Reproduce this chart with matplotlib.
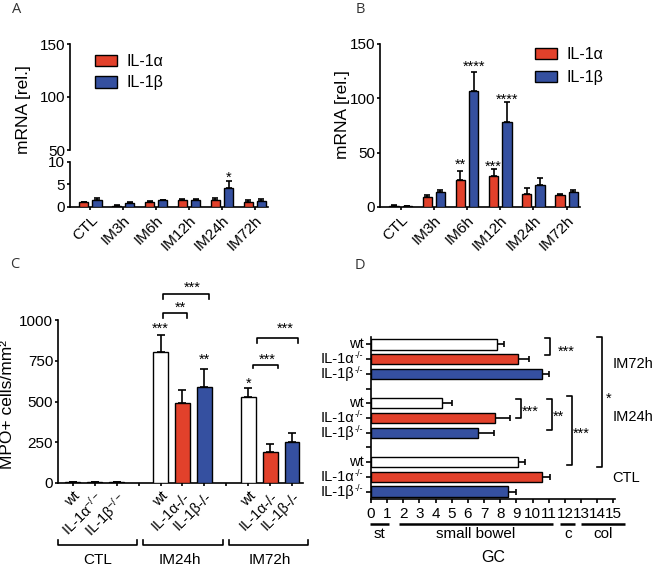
import numpy as np
import matplotlib
matplotlib.use("Agg")
import matplotlib.pyplot as plt
from matplotlib.patches import Patch
from matplotlib.transforms import offset_copy

plt.rcParams['font.family'] = ['Liberation Sans', 'DejaVu Sans']
plt.rcParams['mathtext.fontset'] = 'custom'
plt.rcParams['mathtext.rm'] = 'Liberation Sans'
plt.rcParams['mathtext.it'] = 'Liberation Sans:italic'
plt.rcParams['axes.linewidth'] = 1.2
plt.rcParams['xtick.major.width'] = 1.2
plt.rcParams['ytick.major.width'] = 1.2
plt.rcParams['xtick.major.size'] = 2.5
plt.rcParams['ytick.major.size'] = 2.5
plt.rcParams['xtick.major.pad'] = 2
plt.rcParams['ytick.major.pad'] = 1
plt.rcParams['xtick.labelsize'] = 11
plt.rcParams['ytick.labelsize'] = 11

RED = '#e2412b'
BLUE = '#3550a0'
W, H = 656, 566

# ---- data: A / B (qPCR, mean and SEM) ----
timepoints = ['CTL', 'IM3h', 'IM6h', 'IM12h', 'IM24h', 'IM72h']
a_il1a = [1.0, 0.3, 1.1, 1.6, 1.6, 1.2]
a_il1a_sem = [0.2, 0.1, 0.2, 0.1, 0.3, 0.4]
a_il1b = [1.5, 0.9, 1.5, 1.6, 4.3, 1.4]
a_il1b_sem = [0.6, 0.1, 0.1, 0.1, 1.4, 0.4]
b_il1a = [1.0, 8.9, 25.0, 28.8, 12.3, 10.7]
b_il1a_sem = [0.5, 2.1, 8.4, 6.2, 5.2, 1.6]
b_il1b = [0.8, 13.5, 107.0, 78.5, 20.5, 13.5]
b_il1b_sem = [0.4, 2.5, 17.0, 18.5, 6.2, 1.8]

# ---- data: C (MPO+ cells) ----
mpo_groups = ['CTL', 'IM24h', 'IM72h']
mpo_wt = [5, 805, 525]
mpo_wt_sem = [1, 105, 55]
mpo_il1a = [4, 493, 190]
mpo_il1a_sem = [1, 79, 52]
mpo_il1b = [4, 590, 252]
mpo_il1b_sem = [1, 110, 53]

# ---- data: D (geometric center) ----
gc_groups = ['IM72h', 'IM24h', 'CTL']
gc_wt = [7.8, 4.4, 9.1]
gc_wt_sem = [0.4, 0.6, 0.4]
gc_il1a = [9.1, 7.7, 10.6]
gc_il1a_sem = [0.7, 0.9, 0.5]
gc_il1b = [10.6, 6.6, 8.5]
gc_il1b_sem = [0.4, 1.0, 0.5]
gc_segments = ['st', 'small bowel', 'c', 'col']
gc_seg_start = [-0.05, 1.75, 11.7, 13.0]
gc_seg_end = [1.1, 11.25, 12.65, 15.7]

fig = plt.figure(figsize=(W / 100, H / 100), dpi=100)


def axes_px(left, top, right, bottom):
    return fig.add_axes([left / W, 1 - bottom / H, (right - left) / W, (bottom - top) / H])


def clean(ax):
    ax.spines['top'].set_visible(False)
    ax.spines['right'].set_visible(False)


def star(ax, x, y, s, fs=10.5, ha='center'):
    # place asterisks so that the glyphs are centred on (x, y)
    ax.annotate(s, (x, y), xytext=(0, -0.58 * fs), textcoords='offset points',
                ha=ha, va='baseline', fontsize=fs, annotation_clip=False)


def grouped_bars(ax, va, sa, vb, sb):
    x = np.arange(len(timepoints))
    for off, v, s, c in [(-0.2, va, sa, RED), (0.2, vb, sb, BLUE)]:
        ax.bar(x + off, v, width=0.28, color=c, edgecolor='black', linewidth=1, zorder=3)
        ax.errorbar(x + off, v, yerr=[np.zeros(len(v)), s], fmt='none', ecolor='black',
                    elinewidth=1.2, capsize=2.5, capthick=1.2, zorder=2)
    ax.set_xticks(x)
    ax.set_xticklabels(timepoints, rotation=45, ha='right', rotation_mode='anchor')
    ax.set_xlim(-0.62, 5.4)


legend_handles = [Patch(facecolor=RED, edgecolor='black'), Patch(facecolor=BLUE, edgecolor='black')]
legend_labels = ['IL-1α', 'IL-1β']

# ---- Panel A (broken axis) ----
axA_top = axes_px(70, 44, 268, 150)
axA = axes_px(70, 162, 268, 207)
grouped_bars(axA, a_il1a, a_il1a_sem, a_il1b, a_il1b_sem)
clean(axA)
axA.set_ylim(0, 10)
axA.set_yticks([0, 5, 10])
star(axA, 4.2, 7.5, '*')

axA_top.set_xlim(-0.62, 5.4)
axA_top.set_ylim(50, 150)
axA_top.set_yticks([50, 100, 150])
for sp in ['top', 'right', 'bottom']:
    axA_top.spines[sp].set_visible(False)
axA_top.set_xticks([])
axA_top.patch.set_alpha(0)
axA_top.legend(legend_handles, legend_labels, loc='upper left', bbox_to_anchor=(95 / W, 1 - 54 / H),
               bbox_transform=fig.transFigure, frameon=False, fontsize=11.5, handlelength=1.4,
               handleheight=0.75, handletextpad=0.6, labelspacing=0.4, borderpad=0, borderaxespad=0)
fig.text(24 / W, 1 - 110 / H, 'mRNA [rel.]', rotation=90, ha='center', va='center', fontsize=12.5)

# ---- Panel B ----
axB = axes_px(380, 44, 580, 207)
grouped_bars(axB, b_il1a, b_il1a_sem, b_il1b, b_il1b_sem)
clean(axB)
axB.set_ylim(0, 150)
axB.set_yticks([0, 50, 100, 150])
star(axB, 1.8, 43.2, '**')
star(axB, 2.2, 133.4, '****')
star(axB, 2.8, 41.4, '***')
star(axB, 3.2, 103.0, '****')
axB.legend(legend_handles, legend_labels, loc='upper left', bbox_to_anchor=(535 / W, 1 - 47 / H),
           bbox_transform=fig.transFigure, frameon=False, fontsize=11.5, handlelength=1.4,
           handleheight=0.75, handletextpad=0.6, labelspacing=0.5, borderpad=0, borderaxespad=0)
fig.text(342 / W, 1 - 115 / H, 'mRNA [rel.]', rotation=90, ha='center', va='center', fontsize=12.5)

# ---- Panel C ----
axC = axes_px(58, 320, 303, 483)
clean(axC)
pos_wt = np.array([0, 4, 8])
for off, v, s, c in [(0, mpo_wt, mpo_wt_sem, 'white'), (1, mpo_il1a, mpo_il1a_sem, RED),
                     (2, mpo_il1b, mpo_il1b_sem, BLUE)]:
    axC.bar(pos_wt + off, v, width=0.68, color=c, edgecolor='black', linewidth=1, zorder=3)
    axC.errorbar(pos_wt + off, v, yerr=[np.zeros(3), s], fmt='none', ecolor='black',
                 elinewidth=1.2, capsize=3, capthick=1.2, zorder=2)
axC.set_xlim(-0.68, 10.5)
axC.set_ylim(0, 1000)
axC.set_yticks([0, 250, 500, 750, 1000])
c_labels = ['wt', 'IL-1α$^{-/-}$', 'IL-1β$^{-/-}$', '',
            'wt', 'IL-1α-/-', 'IL-1β-/-', '',
            'wt', 'IL-1α-/-', 'IL-1β-/-']
axC.set_xticks(range(11))
axC.set_xticklabels(c_labels, rotation=45, ha='right', rotation_mode='anchor', fontsize=10.5)
axC.set_ylabel('MPO+ cells/mm²', fontsize=12.5)
axC.yaxis.set_label_coords(-0.175, 0.48)

star(axC, 4, 975, '***')
star(axC, 6, 785, '**')
star(axC, 8, 638, '*')


def hbracket(ax, x0, x1, y, drop):
    ax.plot([x0, x0, x1, x1], [y - drop, y, y, y - drop], color='black', lw=1.2, clip_on=False)


hbracket(axC, 4.1, 5.22, 1043, 31)
star(axC, 4.9, 1104, '**')
hbracket(axC, 4.1, 6.21, 1160, 31)
star(axC, 5.43, 1227, '***')
hbracket(axC, 8.22, 9.36, 724, 19)
star(axC, 8.86, 785, '***')
hbracket(axC, 8.4, 10.27, 890, 31)
star(axC, 9.68, 975, '***')

tC = axC.get_xaxis_transform()
for g, (x0, x1) in zip(mpo_groups, [(-0.68, 2.92), (3.19, 6.84), (7.12, 10.73)]):
    axC.plot([x0, x0, x1, x1], [-0.35, -0.38, -0.38, -0.35], color='black', lw=1.2,
             transform=tC, clip_on=False)
for g, xc in zip(mpo_groups, [1.14, 4.9, 9.0]):
    axC.text(xc, -0.475, g, transform=tC, ha='center', va='center', fontsize=11)

# ---- Panel D ----
axD = axes_px(371, 337, 615, 499)
clean(axD)
rows_wt = np.array([10, 6, 2])
for off, v, s, c in [(0, gc_wt, gc_wt_sem, 'white'), (-1, gc_il1a, gc_il1a_sem, RED),
                     (-2, gc_il1b, gc_il1b_sem, BLUE)]:
    axD.barh(rows_wt + off, v, height=0.7, color=c, edgecolor='black', linewidth=1, zorder=3)
    axD.errorbar(v, rows_wt + off, xerr=[np.zeros(3), s], fmt='none', ecolor='black',
                 elinewidth=1.2, capsize=2.5, capthick=1.2, zorder=2)
axD.set_ylim(-0.5, 10.5)
axD.set_xlim(0, 15.1)
axD.set_xticks(range(16))
axD.tick_params(axis='x', length=3, pad=3)
axD.set_yticks(range(11))
axD.set_yticklabels([])
axD.tick_params(axis='y', length=3.5)

# row labels drawn as text: name plus a small "-/-" superscript
tY = axD.get_yaxis_transform()
t_main = offset_copy(tY, fig=fig, x=-5.5, units='points')
t_name = offset_copy(tY, fig=fig, x=-12, units='points')
t_sup = offset_copy(tY, fig=fig, x=-5.5, y=2.4, units='points')
for base in rows_wt:
    axD.text(0, base, 'wt', transform=t_main, ha='right', va='center', fontsize=10.5)
    for k, name in [(1, 'IL-1α'), (2, 'IL-1β')]:
        axD.text(0, base - k, name, transform=t_name, ha='right', va='center', fontsize=10.5)
        axD.text(0, base - k, '-/-', transform=t_sup, ha='right', va='center', fontsize=6.5)

tD = axD.get_xaxis_transform()
for seg, x0, x1 in zip(gc_segments, gc_seg_start, gc_seg_end):
    axD.plot([x0, x1], [-0.154, -0.154], color='black', lw=1.8, transform=tD, clip_on=False,
             solid_capstyle='butt')
    axD.text((x0 + x1) / 2, -0.215, seg, transform=tD, ha='center', va='center', fontsize=11)
axD.text(7.55, -0.364, 'GC', transform=tD, ha='center', va='center', fontsize=11.5)


def vbracket(ax, x, y0, y1, arm=0.33):
    ax.plot([x - arm, x, x, x - arm], [y0, y0, y1, y1], color='black', lw=1.2, clip_on=False)


vbracket(axD, 11.1, 10.4, 9.3)
star(axD, 11.55, 9.8, '***', ha='left')
vbracket(axD, 9.3, 6.3, 5.0)
star(axD, 9.35, 5.75, '***', ha='left')
vbracket(axD, 11.2, 6.3, 4.2)
star(axD, 11.25, 5.37, '**', ha='left')
vbracket(axD, 12.46, 6.5, 1.8)
star(axD, 12.5, 4.2, '***', ha='left')
vbracket(axD, 14.3, 10.5, 1.7)
star(axD, 14.55, 6.6, '*', ha='left')
for g, yc in zip(gc_groups, [8.64, 5.1, 0.95]):
    axD.text(14.95, yc, g, ha='left', va='center', fontsize=10.5, clip_on=False)

# ---- panel letters ----
for letter, px, py in [('A', 12, 2), ('B', 356, 2), ('C', 10, 257), ('D', 355, 258)]:
    fig.text(px / W, 1 - py / H, letter, ha='left', va='top', fontsize=10.5,
             color='#333333', family=['Open Sans', 'DejaVu Sans'])

fig.savefig('out.png', dpi=100)
